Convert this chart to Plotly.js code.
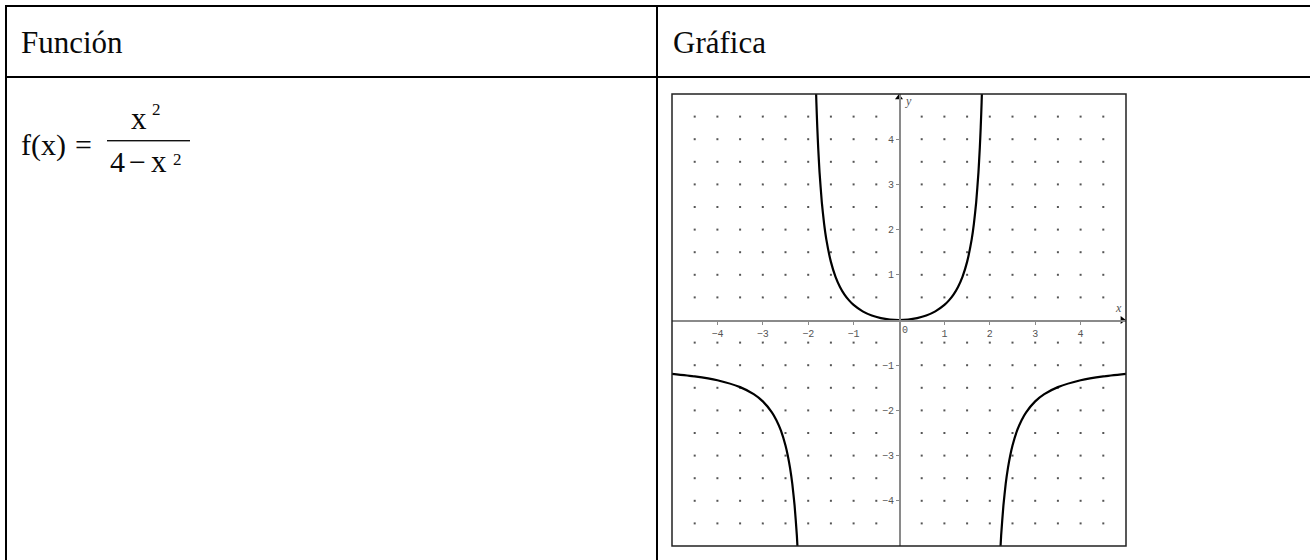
<!DOCTYPE html>
<html>
<head>
<meta charset="utf-8">
<script src="https://cdn.plot.ly/plotly-3.0.1.min.js"></script>
<style>
  html, body { margin: 0; padding: 0; background: #ffffff; }
  #wrap { position: relative; width: 1310px; height: 560px; overflow: hidden; background: #fff; }
  #chart { position: absolute; left: 0; top: 0; width: 1310px; height: 560px; }
  #table { position: absolute; left: 0; top: 0; pointer-events: none; }
  #table text { font-family: "Liberation Serif", "Times New Roman", serif; fill: #0a0a0a; }
</style>
</head>
<body>
<div id="wrap">
  <div id="chart"></div>
  <svg id="table" width="1310" height="560">
    <rect x="5" y="5" width="1305" height="2" fill="#000"/>
    <rect x="5" y="76" width="1305" height="2" fill="#000"/>
    <rect x="5" y="5" width="2" height="555" fill="#000"/>
    <rect x="656" y="5" width="2" height="555" fill="#000"/>
    <text x="21" y="53" font-size="31">Función</text>
    <text x="673" y="53" font-size="31">Gráfica</text>
    <text x="21" y="155" font-size="30">f(x)</text>
    <text x="75" y="155" font-size="30">=</text>
    <rect x="107" y="140" width="83" height="1.4" fill="#111"/>
    <text x="131" y="128.5" font-size="31">x</text>
    <text x="152" y="115" font-size="17">2</text>
    <text x="110" y="171.5" font-size="30">4</text>
    <text x="129" y="171.5" font-size="30">−</text>
    <text x="151" y="171.5" font-size="31">x</text>
    <text x="173" y="165" font-size="17">2</text>
  </svg>
</div>
<script>
const leftX  = [-5, -4.5, -4, -3.5, -3.2, -3, -2.8, -2.7, -2.6, -2.5, -2.45, -2.4, -2.35, -2.3, -2.25, -2.22];
const leftY  = [-1.19, -1.246, -1.333, -1.485, -1.641, -1.8, -2.042, -2.216, -2.449, -2.778, -2.998, -3.273, -3.627, -4.101, -4.765, -5.309];
const midX   = [-1.84, -1.82, -1.8, -1.78, -1.75, -1.7, -1.65, -1.6, -1.5, -1.4, -1.3, -1.2, -1.1, -1.0, -0.8, -0.6, -0.4, -0.2, 0,
                 0.2, 0.4, 0.6, 0.8, 1.0, 1.1, 1.2, 1.3, 1.4, 1.5, 1.6, 1.65, 1.7, 1.75, 1.78, 1.8, 1.82, 1.84];
const midY   = [5.51, 4.817, 4.263, 3.81, 3.267, 2.604, 2.131, 1.778, 1.286, 0.961, 0.732, 0.5625, 0.434, 0.333, 0.19, 0.099, 0.042, 0.01, 0,
                 0.01, 0.042, 0.099, 0.19, 0.333, 0.434, 0.5625, 0.732, 0.961, 1.286, 1.778, 2.131, 2.604, 3.267, 3.81, 4.263, 4.817, 5.51];
const rightX = [2.22, 2.25, 2.3, 2.35, 2.4, 2.45, 2.5, 2.6, 2.7, 2.8, 3, 3.2, 3.5, 4, 4.5, 5];
const rightY = [-5.309, -4.765, -4.101, -3.627, -3.273, -2.998, -2.778, -2.449, -2.216, -2.042, -1.8, -1.641, -1.485, -1.333, -1.246, -1.19];

const xTickVals = [-4, -3, -2, -1, 1, 2, 3, 4];
const yTickVals = [-4, -3, -2, -1, 1, 2, 3, 4];
const axisRange = [-5, 5];

// dotted background grid (every half unit, skipping the axes)
const dotX = [], dotY = [];
for (let i = -9; i <= 9; i++) {
  for (let j = -9; j <= 9; j++) {
    if (i === 0 || j === 0) continue;
    dotX.push(i / 2); dotY.push(j / 2);
  }
}

const curveLine = { color: '#000', width: 2.2, shape: 'spline', smoothing: 0.5 };
const traces = [
  { x: dotX, y: dotY, mode: 'markers', type: 'scatter', hoverinfo: 'skip',
    marker: { size: 2, color: '#555', symbol: 'square' } },
  { x: leftX, y: leftY, mode: 'lines', type: 'scatter', line: curveLine },
  { x: midX, y: midY, mode: 'lines', type: 'scatter', line: curveLine },
  { x: rightX, y: rightY, mode: 'lines', type: 'scatter', line: curveLine },
  { x: [0], y: [4.92], mode: 'markers', type: 'scatter', cliponaxis: false, hoverinfo: 'skip',
    marker: { symbol: 'triangle-up', size: 7, color: '#000' } },
  { x: [4.92], y: [0], mode: 'markers', type: 'scatter', cliponaxis: false, hoverinfo: 'skip',
    marker: { symbol: 'triangle-right', size: 7, color: '#000' } }
];

const tickFont = { family: 'Liberation Mono, DejaVu Sans Mono, monospace', size: 10, color: '#555' };
const layout = {
  width: 1310, height: 560,
  margin: { l: 672, r: 184, t: 94, b: 14, pad: 0 },
  paper_bgcolor: 'rgba(0,0,0,0)',
  plot_bgcolor: '#ffffff',
  showlegend: false,
  xaxis: {
    range: axisRange, anchor: 'free', position: 0.5,
    showline: true, linecolor: '#8a8a8a', linewidth: 1.5,
    ticks: 'outside', ticklen: 3, tickcolor: '#8a8a8a', tickwidth: 1,
    tickvals: xTickVals, tickfont: tickFont,
    showgrid: false, zeroline: false, fixedrange: true
  },
  yaxis: {
    range: axisRange, anchor: 'free', position: 0.5,
    showline: true, linecolor: '#8a8a8a', linewidth: 1.5,
    ticks: 'outside', ticklen: 3, tickcolor: '#8a8a8a', tickwidth: 1,
    tickvals: yTickVals, tickfont: tickFont,
    showgrid: false, zeroline: false, fixedrange: true
  },
  shapes: [
    { type: 'rect', xref: 'paper', yref: 'paper', x0: 0, x1: 1, y0: 0, y1: 1,
      line: { color: '#222', width: 1.5 }, layer: 'above' }
  ],
  annotations: [
    { x: 0, y: 0, xref: 'x', yref: 'y', text: '0', showarrow: false,
      xanchor: 'left', yanchor: 'top', xshift: 1, yshift: -3, font: tickFont },
    { x: 0, y: 5, xref: 'x', yref: 'y', text: 'y', showarrow: false,
      xanchor: 'left', yanchor: 'top', xshift: 4, yshift: 2,
      font: { family: 'Liberation Serif, serif', size: 12, color: '#555', style: 'italic' } },
    { x: 5, y: 0, xref: 'x', yref: 'y', text: 'x', showarrow: false,
      xanchor: 'right', yanchor: 'bottom', xshift: -2, yshift: 3,
      font: { family: 'Liberation Serif, serif', size: 12, color: '#555', style: 'italic' } }
  ]
};

Plotly.newPlot('chart', traces, layout, { staticPlot: true, displayModeBar: false });
</script>
</body>
</html>
